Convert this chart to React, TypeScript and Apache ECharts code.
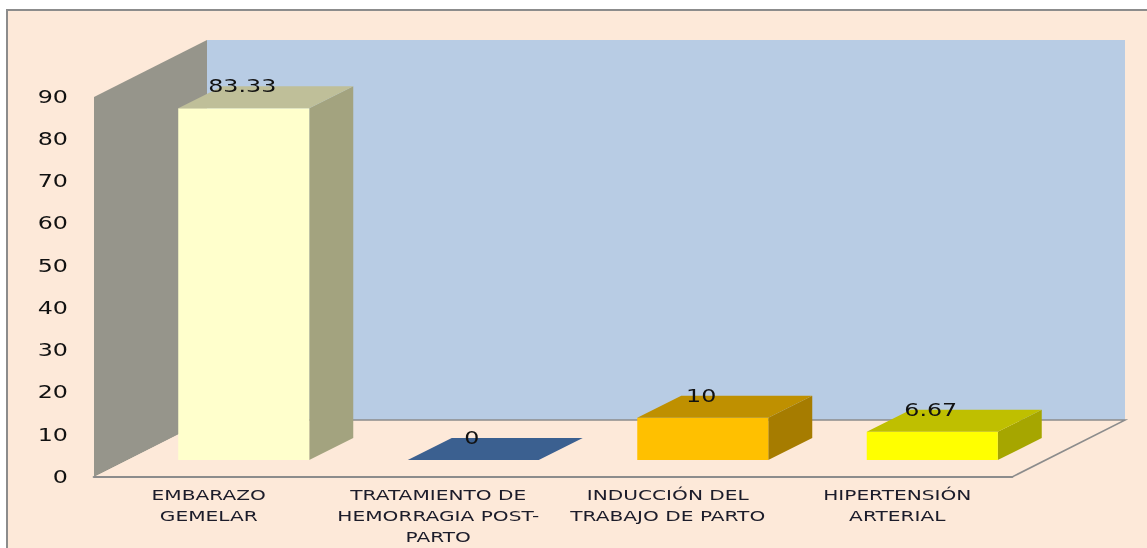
import React, { useEffect, useRef } from "react";
import * as echarts from "echarts";

const categories = [
  "EMBARAZO\nGEMELAR",
  "TRATAMIENTO DE\nHEMORRAGIA POST-\nPARTO",
  "INDUCCIÓN DEL\nTRABAJO DE PARTO",
  "HIPERTENSIÓN\nARTERIAL",
];
const values = [83.33, 0, 10, 6.67];
const frontColors = ["#FFFFCC", "#376092", "#FFC000", "#FFFF00"];
const topColors = ["#BFBF99", "#3B6090", "#BF9000", "#BFBF00"];
const sideColors = ["#A3A37F", "#2A4870", "#A67C00", "#A6A600"];

// The reference is a horizontally stretched picture: the chart is laid out narrower and stretched.
const SX = 1.4;
const W = 1147;
const H = 548;
const sx = (v: number) => v / SX;

const BG = "#FDE9D9";
const WALL = "#B8CCE4";
const SIDE_WALL = "#96958B";
const EDGE = "#8C8C8C";
const TEXT = "#111111";
const FONT = '"DejaVu Sans", sans-serif';

export default function App() {
  const ref = useRef<HTMLDivElement>(null);
  useEffect(() => {
    document.body.style.margin = "0";
    document.body.style.overflow = "hidden";
    const chart = echarts.init(ref.current!, undefined, { renderer: "svg" });
    const depthX = sx(113);
    const depthY = -57;
    chart.setOption({
      animation: false,
      backgroundColor: "transparent",
      grid: { left: sx(94), top: 97, width: sx(918), height: 381, containLabel: false },
      xAxis: {
        type: "category",
        data: categories,
        z: 5,
        axisTick: { show: false },
        axisLine: { show: true, lineStyle: { color: EDGE, width: 2 } },
        axisLabel: {
          interval: 0,
          margin: 8,
          fontFamily: FONT,
          fontSize: 14.4,
          lineHeight: 21,
          color: "#1c1c2a",
        },
      },
      yAxis: {
        type: "value",
        min: 0,
        max: 90,
        interval: 10,
        axisLine: { show: false },
        axisTick: { show: false },
        splitLine: { show: false },
        axisLabel: { margin: sx(26), fontFamily: FONT, fontSize: 17, color: TEXT },
      },
      series: [
        {
          type: "custom",
          z: 1,
          silent: true,
          data: [0],
          renderItem: (params: any) => {
            const c = params.coordSys;
            const l = c.x;
            const r = c.x + c.width;
            const t = c.y;
            const b = c.y + c.height;
            return {
              type: "group",
              children: [
                {
                  type: "rect",
                  shape: { x: l + depthX, y: t + depthY, width: c.width, height: c.height },
                  style: { fill: WALL },
                },
                {
                  type: "polygon",
                  shape: { points: [[l, t], [l + depthX, t + depthY], [l + depthX, b + depthY], [l, b]] },
                  style: { fill: SIDE_WALL },
                },
                {
                  type: "polygon",
                  shape: { points: [[l, b], [l + depthX, b + depthY], [r + depthX, b + depthY], [r, b]] },
                  style: { fill: BG },
                },
                {
                  type: "polyline",
                  shape: { points: [[l + depthX, b + depthY], [r + depthX, b + depthY], [r, b]] },
                  style: { fill: "none", stroke: EDGE, lineWidth: 1.5 },
                },
              ],
            };
          },
        },
        {
          type: "custom",
          z: 6,
          silent: true,
          data: values.map((v, i) => [i, v]),
          renderItem: (_params: any, api: any) => {
            const i = api.value(0);
            const v = api.value(1);
            const top = api.coord([i, v]);
            const base = api.coord([i, 0]);
            const x0 = top[0] + sx(35) - sx(65.5);
            const x1 = x0 + sx(131);
            const y0 = top[1] - 17;
            const y1 = base[1] - 17;
            const dx = sx(44);
            const dy = -22;
            const children: any[] = [];
            if (v > 0) {
              children.push(
                {
                  type: "polygon",
                  shape: { points: [[x1, y0], [x1 + dx, y0 + dy], [x1 + dx, y1 + dy], [x1, y1]] },
                  style: { fill: sideColors[i] },
                },
                {
                  type: "rect",
                  shape: { x: x0, y: y0, width: x1 - x0, height: y1 - y0 },
                  style: { fill: frontColors[i] },
                }
              );
            }
            children.push(
              {
                type: "polygon",
                shape: { points: [[x0, y0], [x0 + dx, y0 + dy], [x1 + dx, y0 + dy], [x1, y0]] },
                style: { fill: topColors[i] },
              },
              {
                type: "text",
                x: (x0 + x1) / 2 - sx(1.5),
                y: y0 - 22,
                z2: 10,
                style: {
                  text: String(v),
                  textAlign: "center",
                  textVerticalAlign: "middle",
                  fontFamily: FONT,
                  fontSize: 17,
                  fill: TEXT,
                },
              }
            );
            return { type: "group", children };
          },
        },
      ],
    });
    return () => chart.dispose();
  }, []);

  return (
    <div style={{ position: "relative", width: W, height: H, overflow: "hidden", background: "#fff", filter: "blur(0.5px)" }}>
      <div
        style={{
          position: "absolute",
          left: 6,
          top: 9,
          width: W + 20,
          height: H + 20,
          background: BG,
          border: "2px solid #8C8C8C",
          boxSizing: "border-box",
        }}
      />
      <div
        ref={ref}
        style={{
          position: "absolute",
          left: 0,
          top: 0,
          width: W / SX,
          height: H,
          transform: `scaleX(${SX})`,
          transformOrigin: "0 0",
        }}
      />
    </div>
  );
}
